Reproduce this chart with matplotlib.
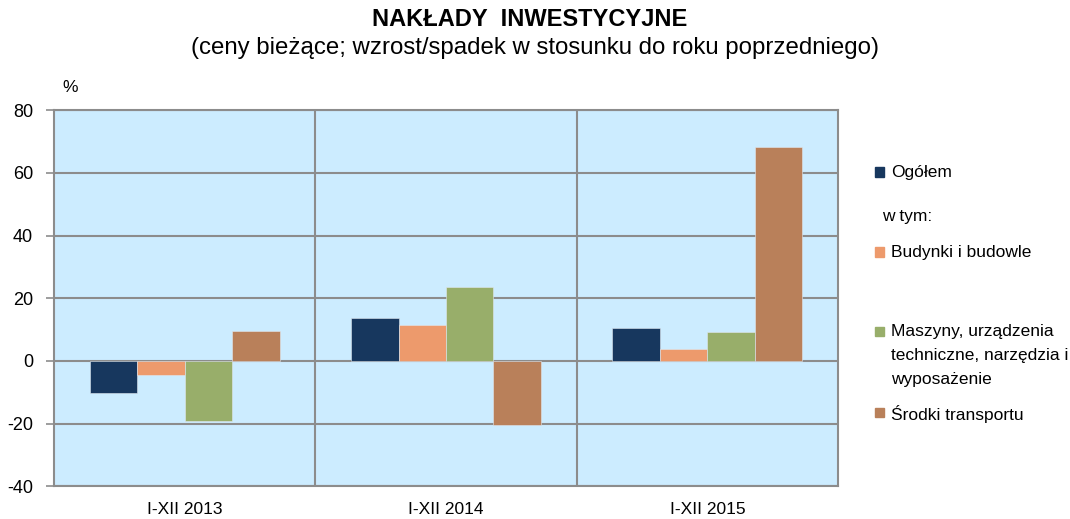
import matplotlib
matplotlib.use("Agg")
import matplotlib.pyplot as plt
import numpy as np
from matplotlib.patches import Rectangle

plt.rcParams['font.family'] = ['Liberation Sans', 'DejaVu Sans']

# Data
categories = ['I-XII 2013', 'I-XII 2014', 'I-XII 2015']
series_names = ['Ogółem', 'Budynki i budowle',
                'Maszyny, urządzenia\ntechniczne, narzędzia i\nwyposażenie',
                'Środki transportu']
ogolem = [-10.3, 13.7, 10.4]
budynki = [-4.6, 11.4, 3.8]
maszyny = [-19.1, 23.6, 9.2]
srodki = [9.5, -20.4, 68.2]
colors = ['#17375E', '#ED9A6C', '#98AE6A', '#B9805A']
y_ticks = [-40, -20, 0, 20, 40, 60, 80]

def main():
    fig = plt.figure(figsize=(10.7, 5.19), dpi=100)
    ax = fig.add_axes([54 / 1070, 1 - 486.3 / 519, (838 - 54) / 1070, (486.3 - 110.3) / 519])
    ax.set_facecolor('#CCECFF')

    values = [ogolem, budynki, maszyny, srodki]
    x = np.arange(len(categories))
    bar_width = 0.1815
    for i, vals in enumerate(values):
        positions = x + (i - 1.5) * bar_width
        ax.bar(positions, vals, width=bar_width, color=colors[i],
               edgecolor='#E0E8F0', linewidth=0.4, zorder=3)

    ax.set_xlim(-0.5, 2.5)
    ax.set_ylim(-40, 80)
    ax.set_yticks(y_ticks)
    ax.set_yticklabels([str(t) for t in y_ticks], fontsize=13)
    ax.set_xticks(x)
    ax.set_xticklabels(categories, fontsize=12.5)
    ax.tick_params(axis='x', length=0, pad=11)
    ax.tick_params(axis='y', length=6, width=1.2, color='#8C8C8C', pad=9)

    # gridlines
    for t in y_ticks:
        ax.axhline(t, color='#8C8C8C', linewidth=1.5, zorder=2)
    for b in [0.5, 1.5]:
        ax.axvline(b, color='#8C8C8C', linewidth=1.5, zorder=2)
    for s in ax.spines.values():
        s.set_color('#8C8C8C')
        s.set_linewidth(1.5)

    fig.text(62 / 1070, 1 - 88 / 519, '%', fontsize=12.5, ha='left', va='center')

    # titles
    fig.text(530 / 1070, 1 - 20 / 519, 'NAKŁADY  INWESTYCYJNE', fontsize=17,
             fontweight='bold', ha='center', va='center')
    fig.text(535 / 1070, 1 - 48 / 519,
             '(ceny bieżące; wzrost/spadek w stosunku do roku poprzedniego)',
             fontsize=17.3, ha='center', va='center')

    # legend
    legend_y = [172, 252, 331, 412]
    for i, (name, yy) in enumerate(zip(series_names, legend_y)):
        fig.patches.append(Rectangle((875 / 1070, 1 - (yy + 4.5) / 519), 9 / 1070, 9 / 519,
                                     transform=fig.transFigure, color=colors[i]))
        fig.text(891 / 1070, 1 - (yy - 7) / 519, name, fontsize=12.5, ha='left',
                 va='top', linespacing=1.74)
    fig.text(882 / 1070, 1 - 216 / 519, 'w tym:', fontsize=12.5, ha='left', va='center')

    fig.savefig('out.png', dpi=100)

if __name__ == "__main__":
    main()
